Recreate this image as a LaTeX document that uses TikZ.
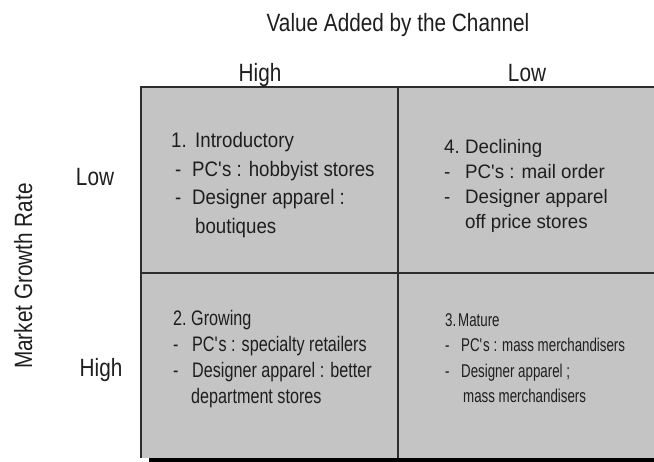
\documentclass[tikz,border=0pt]{standalone}
\usepackage{fontspec}
\newfontfamily\axisfont[FakeStretch=0.83]{Liberation Sans}
\newfontfamily\cellfontA[FakeStretch=0.89]{Liberation Sans}
\newfontfamily\cellfontB[FakeStretch=0.96]{Liberation Sans}
\newfontfamily\cellfontC[FakeStretch=0.77]{Liberation Sans}
\newfontfamily\cellfontD[FakeStretch=0.72]{Liberation Sans}
\definecolor{cellgray}{RGB}{196,196,196}
\definecolor{gridline}{RGB}{45,45,45}
\definecolor{ink}{RGB}{30,30,30}
\newcommand{\pfx}[2]{\makebox[#1][l]{#2}}

\begin{document}
\begin{tikzpicture}[x=1pt,y=-1pt,
    axislabel/.style={font=\axisfont\fontsize{25}{30}\selectfont,text=ink,inner sep=0pt},
    celltext/.style={anchor=north west,align=left,inner sep=0pt,text=ink}]
  \useasboundingbox (0,0) rectangle (654,462);
  % grid
  \fill[cellgray] (141,87) rectangle (660,458);
  \draw[gridline,line width=1.6pt] (660,87) -- (141,87) -- (141,458);
  \draw[gridline,line width=1.6pt] (398,87) -- (398,458);
  \draw[gridline,line width=1.6pt] (141,273) -- (660,273);
  \draw[black,line width=3.5pt] (149,460) -- (660,460);
  % axis labels
  \node[axislabel,anchor=base] (title) at (398,31.5) {Value Added by the Channel};
  \node[axislabel,anchor=base] (colhigh) at (260,81.7) {High};
  \node[axislabel,anchor=base] (collow) at (527,81.7) {Low};
  \node[axislabel,anchor=base,rotate=90] (rowtitle) at (32,276) {Market Growth Rate};
  \node[axislabel,anchor=base] (rowlow) at (95,186) {Low};
  \node[axislabel,anchor=base] (rowhigh) at (101,376.5) {High};
  % cells
  \node[celltext,font=\cellfontA\fontsize{21}{28.7}\selectfont] (intro) at (171,132) {%
    \pfx{24pt}{1.}Introductory\\
    \pfx{21pt}{\hspace{4pt}-}PC\textquotesingle s : hobbyist stores\\
    \pfx{21pt}{\hspace{4pt}-}Designer apparel :\\
    \hspace{24pt}boutiques};
  \node[celltext,font=\cellfontB\fontsize{19.5}{25}\selectfont] (decline) at (444,139) {%
    \pfx{21pt}{4.}Declining\\
    \pfx{21pt}{-}PC\textquotesingle s : mail order\\
    \pfx{21pt}{-}Designer apparel\\
    \hspace{21pt}off price stores};
  \node[celltext,font=\cellfontC\fontsize{21}{25.9}\selectfont] (grow) at (173,310) {%
    \pfx{18pt}{2.}Growing\\
    \pfx{19pt}{-}PC\textquotesingle s : specialty retailers\\
    \pfx{19pt}{-}Designer apparel : better\\
    \hspace{18pt}department stores};
  \node[celltext,font=\cellfontD\fontsize{18.5}{25.5}\selectfont] (mature) at (445,313) {%
    \pfx{13pt}{3.}Mature\\
    \pfx{16pt}{-}PC\textquotesingle s : mass merchandisers\\
    \pfx{16pt}{-}Designer apparel ;\\
    \hspace{18pt}mass merchandisers};
\end{tikzpicture}
\end{document}
